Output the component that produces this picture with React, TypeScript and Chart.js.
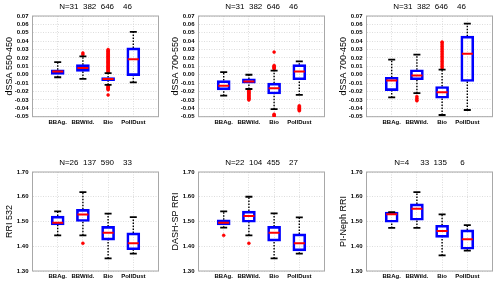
import React, { useEffect, useRef } from 'react';
import { Chart, registerables } from 'chart.js';
Chart.register(...registerables);
Chart.defaults.font.family = "'Liberation Sans', Arial, sans-serif";

const categories = ['BBAg.', 'BBWild.', 'Bio', 'PollDust'];
const ssaTicks = [-0.05, -0.04, -0.03, -0.02, -0.01, 0.0, 0.01, 0.02, 0.03, 0.04, 0.05, 0.06, 0.07];
const rriTicks = [1.3, 1.4, 1.5, 1.6, 1.7];

// Panel 1: dSSA 550-450
const p1Low = [-0.003, -0.005, -0.012, -0.009];
const p1Q1 = [0.0, 0.004, -0.007, -0.001];
const p1Med = [0.004, 0.008, -0.005, 0.0185];
const p1Q3 = [0.006, 0.012, -0.0033, 0.032];
const p1High = [0.015, 0.022, 0.002, 0.051];
const p1Out = [
  [],
  [0.026, 0.024],
  [0.003, 0.004, 0.005, 0.006, 0.007, 0.008, 0.009, 0.010, 0.011, 0.012, 0.013, 0.014, 0.015, 0.016, 0.017, 0.018, 0.019, 0.020, 0.021, 0.022, 0.023, 0.024, 0.025, 0.026, 0.027, 0.028, 0.029, 0.030, -0.013, -0.014, -0.015, -0.016, -0.017, -0.018, -0.024],
  [],
];

// Panel 2: dSSA 700-550
const p2Low = [-0.025, -0.017, -0.041, -0.024];
const p2Q1 = [-0.018, -0.010, -0.023, -0.006];
const p2Med = [-0.013, -0.008, -0.016, 0.004];
const p2Q3 = [-0.007, -0.005, -0.010, 0.012];
const p2High = [0.003, 0.0, 0.005, 0.016];
const p2Out = [
  [],
  [-0.018, -0.019, -0.020, -0.021, -0.022, -0.023, -0.024, -0.025, -0.026, -0.027, -0.028, -0.029, -0.030],
  [0.027, 0.011, 0.010, 0.009, 0.008, 0.007, -0.047, -0.048, -0.049, -0.050],
  [-0.037, -0.038, -0.039, -0.040, -0.041, -0.042, -0.043],
];

// Panel 3: dSSA 700-450
const p3Low = [-0.027, -0.022, -0.048, -0.042];
const p3Q1 = [-0.019, -0.006, -0.028, -0.008];
const p3Med = [-0.007, -0.001, -0.021, 0.025];
const p3Q3 = [-0.003, 0.006, -0.014, 0.046];
const p3High = [0.018, 0.024, 0.006, 0.061];
const p3Out = [
  [],
  [-0.026, -0.028, -0.030, -0.031],
  [0.008, 0.010, 0.012, 0.014, 0.016, 0.018, 0.020, 0.022, 0.024, 0.026, 0.028, 0.030, 0.032, 0.034, 0.036, 0.038, 0.039],
  [],
];

// Panel 4: RRI 532
const p4Low = [1.444, 1.444, 1.351, 1.37];
const p4Q1 = [1.486, 1.5, 1.425, 1.386];
const p4Med = [1.495, 1.528, 1.455, 1.412];
const p4Q3 = [1.522, 1.549, 1.48, 1.454];
const p4High = [1.541, 1.619, 1.532, 1.518];
const p4Out = [[], [1.412], [], []];

// Panel 5: DASH-SP RRI
const p5Low = [1.475, 1.444, 1.351, 1.37];
const p5Q1 = [1.486, 1.497, 1.421, 1.381];
const p5Med = [1.495, 1.522, 1.455, 1.412];
const p5Q3 = [1.507, 1.542, 1.48, 1.45];
const p5High = [1.541, 1.6, 1.533, 1.517];
const p5Out = [[1.444], [1.412], [], []];

// Panel 6: PI-Neph RRI
const p6Low = [1.474, 1.474, 1.363, 1.382];
const p6Q1 = [1.497, 1.505, 1.436, 1.388];
const p6Med = [1.529, 1.552, 1.462, 1.428];
const p6Q3 = [1.538, 1.571, 1.485, 1.466];
const p6High = [1.538, 1.619, 1.529, 1.485];
const p6Out = [[], [], [], []];

const titles = [
  'N=31  382  646    46',
  'N=31  382  646    46',
  'N=31  382  646    46',
  'N=26  137  590    33',
  'N=22  104  455    27',
  'N=4     33  135      6',
];
const yLabels = ['dSSA 550-450', 'dSSA 700-550', 'dSSA 700-450', 'RRI 532', 'DASH-SP RRI', 'PI-Neph RRI'];

type PanelData = {
  low: number[]; q1: number[]; med: number[]; q3: number[]; high: number[]; out: number[][];
  ticks: number[]; title: string; yLabel: string;
};

const panels: PanelData[] = [
  { low: p1Low, q1: p1Q1, med: p1Med, q3: p1Q3, high: p1High, out: p1Out, ticks: ssaTicks, title: titles[0], yLabel: yLabels[0] },
  { low: p2Low, q1: p2Q1, med: p2Med, q3: p2Q3, high: p2High, out: p2Out, ticks: ssaTicks, title: titles[1], yLabel: yLabels[1] },
  { low: p3Low, q1: p3Q1, med: p3Med, q3: p3Q3, high: p3High, out: p3Out, ticks: ssaTicks, title: titles[2], yLabel: yLabels[2] },
  { low: p4Low, q1: p4Q1, med: p4Med, q3: p4Q3, high: p4High, out: p4Out, ticks: rriTicks, title: titles[3], yLabel: yLabels[3] },
  { low: p5Low, q1: p5Q1, med: p5Med, q3: p5Q3, high: p5High, out: p5Out, ticks: rriTicks, title: titles[4], yLabel: yLabels[4] },
  { low: p6Low, q1: p6Q1, med: p6Med, q3: p6Q3, high: p6High, out: p6Out, ticks: rriTicks, title: titles[5], yLabel: yLabels[5] },
];

const framePlugin = {
  id: 'frame',
  beforeDatasetsDraw(chart: any) {
    const { ctx, chartArea: a } = chart;
    ctx.save();
    ctx.strokeStyle = '#a8a8a8';
    ctx.lineWidth = 1;
    ctx.strokeRect(a.left, a.top, a.right - a.left, a.bottom - a.top);
    ctx.restore();
  },
};

const CW = 166;
const CH = 142;

function BoxPanel({ p, left, top, row }: { p: PanelData; left: number; top: number; row: number }) {
  const ref = useRef<HTMLCanvasElement>(null);
  useEffect(() => {
    const xs = [1, 2, 3, 4];
    const boxData = xs.map((x, i) => ({ x, y: [p.q1[i], p.q3[i]] }));
    const whiskers: any[] = [];
    xs.forEach((x, i) => {
      whiskers.push({ x, y: p.low[i] }, { x, y: p.q1[i] }, { x, y: null });
      whiskers.push({ x, y: p.q3[i] }, { x, y: p.high[i] }, { x, y: null });
    });
    const caps = xs.flatMap((x, i) => [{ x, y: p.low[i] }, { x, y: p.high[i] }]);
    const meds = xs.map((x, i) => ({ x, y: p.med[i] }));
    const outs = xs.flatMap((x, i) => p.out[i].map((y) => ({ x, y })));
    const ymin = p.ticks[0];
    const ymax = p.ticks[p.ticks.length - 1];
    const topH = row === 0 ? 16 : 30;
    const titleCenter = row === 0 ? 7 : 21;
    const xHeight = row === 0 ? 25.3 : 13;
    const gridColor = '#d4d4d4';
    const titleSize = 8;
    const chart = new Chart(ref.current as HTMLCanvasElement, {
      type: 'bar',
      data: {
        datasets: [
          { type: 'line', data: whiskers, borderColor: '#000', borderWidth: 1.4, borderDash: [1.5, 1.5], pointRadius: 0, spanGaps: false, order: 4 } as any,
          { type: 'bar', data: boxData, borderColor: '#0000ff', backgroundColor: 'rgba(0,0,0,0)', borderWidth: 2, borderSkipped: false, barThickness: 13, order: 3 } as any,
          { type: 'scatter', data: outs, pointStyle: 'circle', pointRadius: 1.5, backgroundColor: '#ff0000', borderColor: '#ff0000', borderWidth: 0.5, order: 2 } as any,
          { type: 'scatter', data: caps, pointStyle: 'line', pointRadius: 3.5, borderColor: '#000', borderWidth: 1.8, order: 1 } as any,
          { type: 'scatter', data: meds, pointStyle: 'line', pointRadius: 5.5, borderColor: '#ff0000', borderWidth: 2, order: 0 } as any,
        ],
      },
      options: {
        animation: false,
        responsive: false,
        events: [],
        layout: { padding: { left: 0, right: 5, top: 0, bottom: 0 } },
        plugins: {
          legend: { display: false },
          tooltip: { enabled: false },
        },
        scales: {
          x: {
            type: 'linear',
            min: 0,
            max: 5,
            offset: false,
            afterBuildTicks: (s: any) => { s.ticks = xs.map((v) => ({ value: v })); },
            afterFit: (s: any) => { s.height = xHeight; },
            ticks: {
              callback: (v: any) => categories[Number(v) - 1] ?? '',
              font: { size: 6, weight: 'bold' }, color: '#000', padding: 2, autoSkip: false, maxRotation: 0,
            },
            grid: { color: gridColor, drawTicks: false, lineWidth: 0.8, offset: false },
            border: { display: false, dash: [1, 1.5] },
          },
          xTop: {
            type: 'linear',
            position: 'top',
            min: 0,
            max: 5,
            offset: false,
            afterFit: (s: any) => { s.height = topH; },
            ticks: { display: false },
            grid: { display: false, drawTicks: false },
            border: { display: false },
            title: {
              display: true, text: p.title, color: '#000', font: { size: titleSize, weight: 'normal' },
              padding: { top: titleCenter - titleSize * 0.6, bottom: 0 },
            },
          },
          y: {
            type: 'linear',
            min: ymin,
            max: ymax,
            afterBuildTicks: (s: any) => { s.ticks = p.ticks.map((v) => ({ value: v })); },
            afterFit: (s: any) => { s.width = 32.5; },
            ticks: {
              callback: (v: any) => Number(v).toFixed(2),
              font: { size: 6, weight: 'bold' }, color: '#000', padding: 4, autoSkip: false,
            },
            title: { display: true, text: p.yLabel, color: '#000', font: { size: 9 }, padding: { top: 4.5, bottom: 0 } },
            grid: { color: gridColor, drawTicks: false, lineWidth: 0.8 },
            border: { display: false, dash: [1, 1.5] },
          },
        },
      } as any,
      plugins: [framePlugin],
    });
    return () => chart.destroy();
  }, []);
  return (
    <canvas ref={ref} width={CW} height={CH} style={{ position: 'absolute', left, top, width: CW, height: CH }} />
  );
}

const lefts = [0, 166, 334];

export default function App() {
  return (
    <div style={{ position: 'absolute', left: 0, top: 0, width: 500, height: 284, background: '#fff', overflow: 'hidden' }}>
      {panels.map((p, i) => (
        <BoxPanel key={i} p={p} left={lefts[i % 3]} top={i < 3 ? 0 : 142} row={i < 3 ? 0 : 1} />
      ))}
    </div>
  );
}
